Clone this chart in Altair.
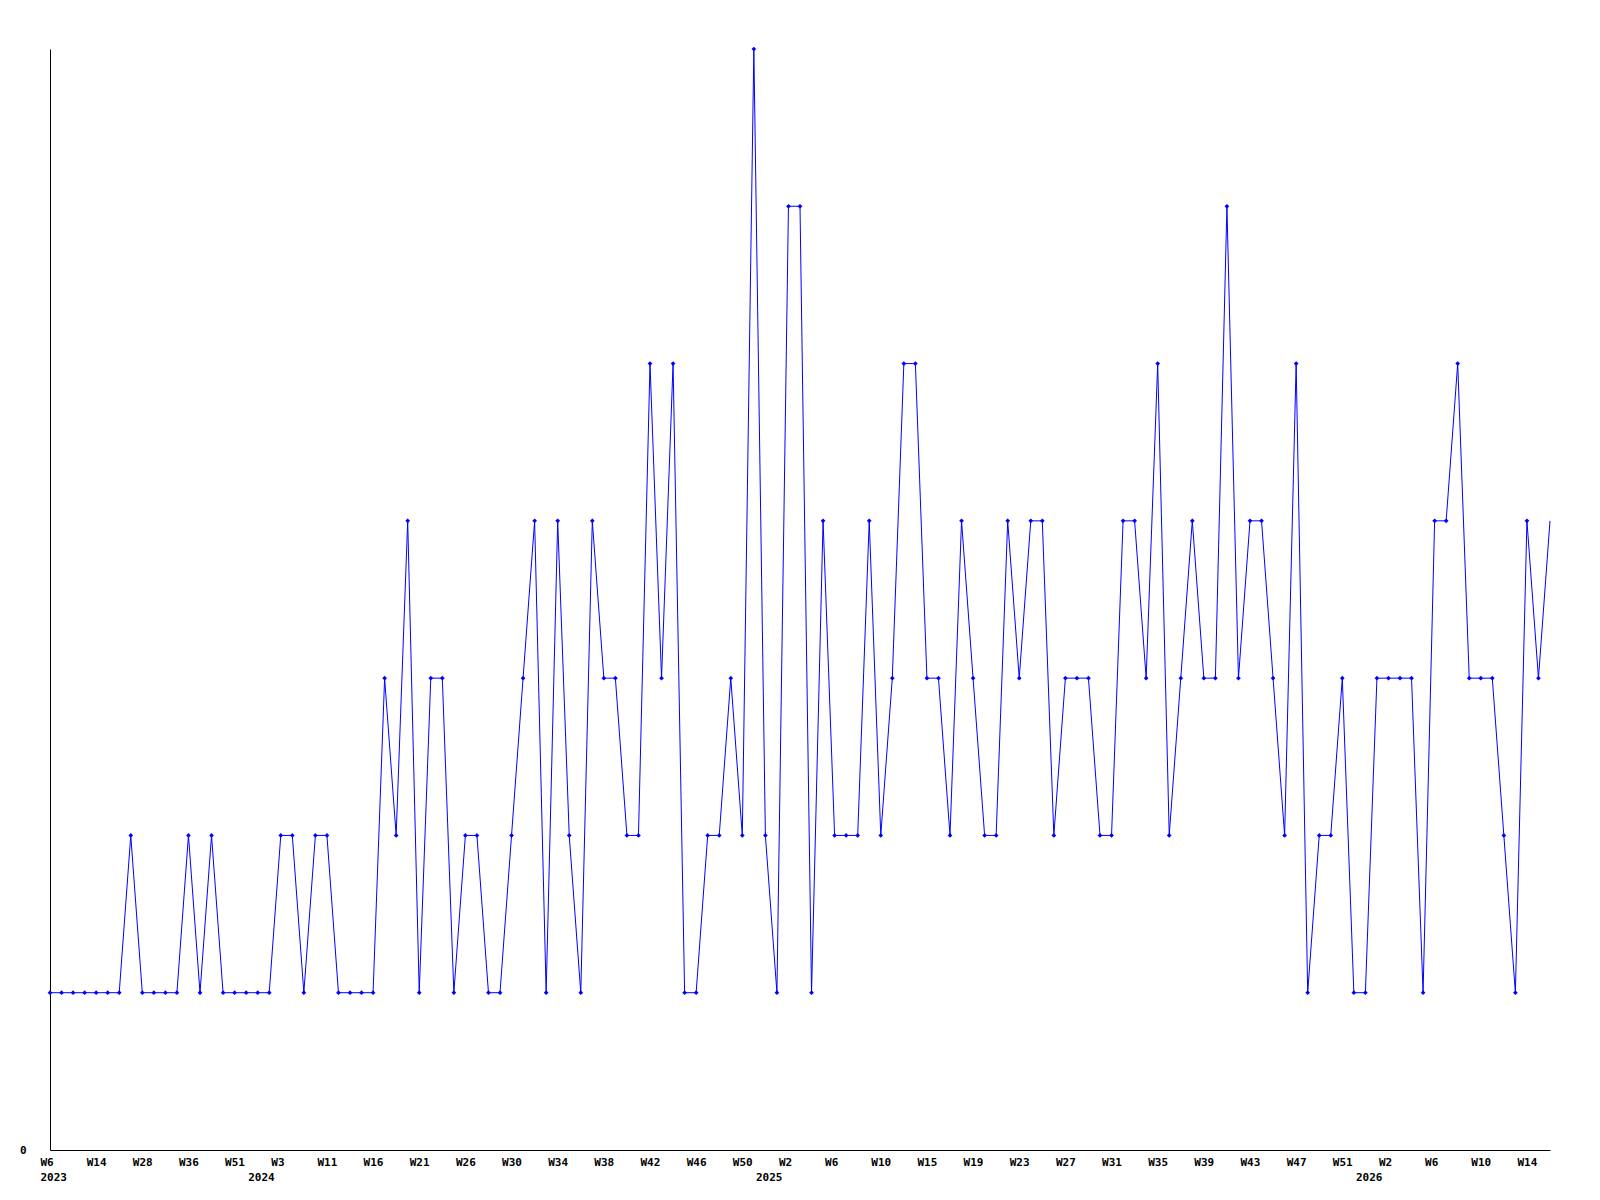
import altair as alt
import pandas as pd

# Series values (one per sample, in order)
values = [
    1, 1, 1, 1, 1, 1, 1, 2, 1, 1, 1, 1, 2, 1, 2, 1, 1, 1, 1, 1,
    2, 2, 1, 2, 2, 1, 1, 1, 1, 3, 2, 4, 1, 3, 3, 1, 2, 2, 1, 1,
    2, 3, 4, 1, 4, 2, 1, 4, 3, 3, 2, 2, 5, 3, 5, 1, 1, 2, 2, 3,
    2, 7, 2, 1, 6, 6, 1, 4, 2, 2, 2, 4, 2, 3, 5, 5, 3, 3, 2, 4,
    3, 2, 2, 4, 3, 4, 4, 2, 3, 3, 3, 2, 2, 4, 4, 3, 5, 2, 3, 4,
    3, 3, 6, 3, 4, 4, 3, 2, 5, 1, 2, 2, 3, 1, 1, 3, 3, 3, 3, 1,
    4, 4, 5, 3, 3, 3, 2, 1, 4, 3, 4,
]

# Week tick labels, one every 4 samples
week_labels = [
    "W6", "W14", "W28", "W36", "W51", "W3", "W11", "W16", "W21", "W26", "W30",
    "W34", "W38", "W42", "W46", "W50", "W2", "W6", "W10", "W15", "W19", "W23",
    "W27", "W31", "W35", "W39", "W43", "W47", "W51", "W2", "W6", "W10", "W14",
]
week_step = 4

# Year labels and the sample index where each year starts
year_labels = ["2023", "2024", "2025", "2026"]
year_index = [0, 18, 62, 114]

n = len(values)
df = pd.DataFrame({"i": list(range(n)), "v": values})
ydf = pd.DataFrame({"i": year_index, "year": year_labels})

week_ticks = [k * week_step for k in range(len(week_labels))]
week_arr = "[" + ",".join("'%s'" % w for w in week_labels) + "]"
year_arr = "{" + ",".join("'%d':'%s'" % (p, y) for p, y in zip(year_index, year_labels)) + "}"

FONT = "DejaVu Sans Mono"
BLUE = "#0000ff"

xscale = alt.Scale(domain=[0, n - 1], nice=False, zero=False)
yscale = alt.Scale(domain=[0, 7], nice=False, zero=True)

week_axis = alt.Axis(
    orient="bottom", values=week_ticks, labelExpr=week_arr + "[round(datum.value/%d)]" % week_step,
    title=None, grid=False, ticks=False, domain=True, domainColor="black", domainWidth=1,
    labelFont=FONT, labelFontWeight="bold", labelFontSize=11, labelColor="black",
    labelAlign="left", labelOffset=-10, labelBaseline="top", labelPadding=6,
    labelOverlap=False, labelFlush=False,
)
year_axis = alt.Axis(
    orient="bottom", values=year_index, labelExpr=year_arr + "[''+datum.value]",
    title=None, grid=False, ticks=False, domain=False,
    labelFont=FONT, labelFontWeight="bold", labelFontSize=11, labelColor="black",
    labelAlign="left", labelOffset=-10, labelBaseline="top", labelPadding=21,
    labelOverlap=False, labelFlush=False,
)
y_axis = alt.Axis(
    values=[0], title=None, grid=False, ticks=False, domain=True, domainColor="black",
    domainWidth=1, labelFont=FONT, labelFontWeight="bold", labelFontSize=11,
    labelColor="black", labelPadding=24, labelBaseline="middle",
)

base = alt.Chart(df)
line = base.mark_line(color=BLUE, strokeWidth=1).encode(
    x=alt.X("i:Q", scale=xscale, axis=week_axis),
    y=alt.Y("v:Q", scale=yscale, axis=y_axis),
)
pts = base.transform_filter(alt.datum.i < n - 1).mark_point(
    shape="diamond", filled=True, size=22, color=BLUE, opacity=1
).encode(
    x=alt.X("i:Q", scale=xscale, axis=week_axis),
    y=alt.Y("v:Q", scale=yscale, axis=y_axis),
)
years = alt.Chart(ydf).mark_point(opacity=0).encode(
    x=alt.X("i:Q", scale=xscale, axis=year_axis),
)

chart = (
    alt.layer(line + pts, years)
    .resolve_axis(x="independent")
    .properties(
        width=1500, height=1101,
        autosize=alt.AutoSizeParams(type="none"),
        padding={"left": 42, "top": 41, "right": 30, "bottom": 60},
        background="white",
    )
    .configure_view(stroke=None)
)

chart.save("out.html", embed_options={"renderer": "svg", "actions": False})
